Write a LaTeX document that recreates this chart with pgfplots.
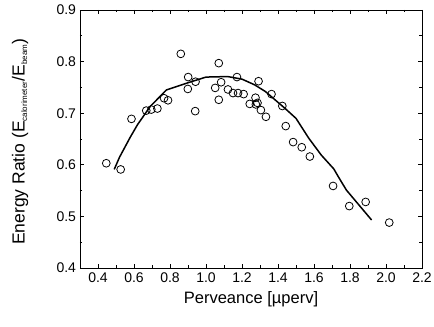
\documentclass[border=0pt]{standalone}
\usepackage{fontspec}
\setmainfont{Liberation Sans}
\usepackage{pgfplots}
\pgfplotsset{compat=1.18}
\usetikzlibrary{calc}
\begin{document}
\begin{tikzpicture}
\begin{axis}[name=ax,
  scale only axis, width=342pt, height=258pt,
  xmin=0.3, xmax=2.2, ymin=0.4, ymax=0.9,
  xtick={0.4,0.6,...,2.2}, ytick={0.4,0.5,...,0.9},
  minor x tick num=1, minor y tick num=1,
  tick align=inside, tick pos=both,
  major tick length=4pt, minor tick length=2.5pt,
  axis line style={line width=0.9pt}, every tick/.style={line width=0.8pt, black},
  /pgf/number format/assume math mode=true,
  /pgf/number format/.cd, fixed, fixed zerofill, precision=1, /pgfplots/.cd,
  tick label style={font=\fontsize{14}{16}\selectfont},
  xticklabel style={yshift=-1pt},
  yticklabel style={xshift=-0.5pt},
  xlabel={Perveance [µperv]},
  ylabel={Energy Ratio (E$_{\mbox{\fontsize{8}{9}\selectfont calorimeter}}$/E$_{\mbox{\fontsize{8}{9}\selectfont beam}}$)},
  xlabel style={font=\fontsize{16.5}{18}\selectfont, at={(axis description cs:0.5,0)}, anchor=center, yshift=-31pt},
  ylabel style={font=\fontsize{17.5}{19}\selectfont, at={(axis description cs:-0.1754,0.49)}, anchor=center},
  clip=false,
]
\addplot[only marks, mark=o, mark size=3.9pt, mark options={line width=0.8pt, black}] coordinates {
(0.446,0.603) (0.526,0.591) (0.586,0.689) (0.668,0.705) (0.696,0.707) (0.73,0.709)
(0.767,0.729) (0.789,0.725) (0.86,0.815) (0.901,0.770) (0.899,0.747) (0.942,0.761)
(0.94,0.704) (1.051,0.749) (1.071,0.797) (1.071,0.726) (1.084,0.760) (1.122,0.746)
(1.15,0.739) (1.178,0.739) (1.172,0.770) (1.209,0.737) (1.243,0.718) (1.275,0.730)
(1.277,0.717) (1.292,0.762) (1.286,0.720) (1.305,0.706) (1.333,0.693) (1.364,0.737)
(1.424,0.714) (1.443,0.675) (1.484,0.644) (1.532,0.634) (1.577,0.616) (1.706,0.559)
(1.796,0.520) (1.887,0.528) (2.018,0.488)
};
\addplot[black, line width=1.5pt, mark=none] coordinates {
(0.49,0.591) (0.52,0.615) (0.58,0.654) (0.62,0.678) (0.69,0.713) (0.78,0.745)
(0.9,0.759) (1.0,0.770) (1.12,0.771) (1.2,0.766) (1.27,0.755) (1.33,0.742)
(1.38,0.727) (1.44,0.709) (1.50,0.690) (1.57,0.652) (1.64,0.619) (1.71,0.592)
(1.74,0.574) (1.78,0.551) (1.85,0.522) (1.92,0.493)
};
\end{axis}
\pgfresetboundingbox
\path ($(ax.south west)+(-80pt,-59pt)$) rectangle ($(ax.north east)+(12pt,10pt)$);
\end{tikzpicture}
\end{document}
